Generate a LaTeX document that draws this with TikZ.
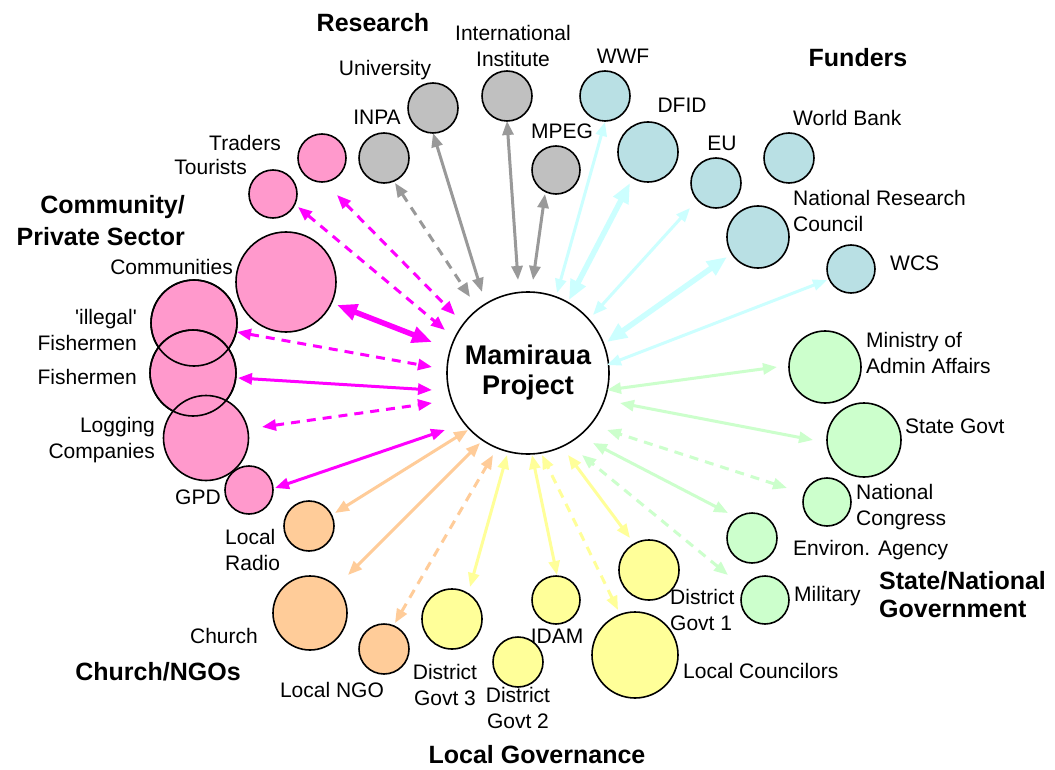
\documentclass[tikz,border=0pt]{standalone}
\usepackage{fontspec}
\setmainfont{Liberation Sans}[Ligatures=TeXOff]
\usetikzlibrary{arrows.meta,calc}
\definecolor{pinkf}{HTML}{FF99CC}
\definecolor{pinka}{HTML}{FF00FF}
\definecolor{grayf}{HTML}{C0C0C0}
\definecolor{graya}{HTML}{999999}
\definecolor{bluef}{HTML}{B9E0E4}
\definecolor{bluea}{HTML}{CCFFFF}
\definecolor{greenf}{HTML}{CCFFCC}
\definecolor{greena}{HTML}{CCFFCC}
\definecolor{yellf}{HTML}{FFFF99}
\definecolor{yella}{HTML}{FFFF99}
\definecolor{orf}{HTML}{FFCC99}
\definecolor{ora}{HTML}{FFCC99}
\begin{document}
\begin{tikzpicture}[x=1pt,y=-1pt,
  bub/.style={circle,draw=black,line width=1.6pt,inner sep=0pt,minimum size=#1},
  ring/.style={draw=black,line width=1.6pt},
  lab/.style={font=\fontsize{21}{26}\selectfont,inner sep=0pt},
  head/.style={font=\fontsize{25}{31}\selectfont\bfseries,inner sep=0pt},
  arr/.style={line width=3pt,{Triangle[length=14pt,width=11pt]}-{Triangle[length=14pt,width=11pt]}},
  fatarr/.style={line width=5.5pt,{Triangle[length=20pt,width=16pt]}-{Triangle[length=20pt,width=16pt]}},
  dsh/.style={dash pattern=on 9pt off 7pt}]
\useasboundingbox (0,0) rectangle (1055,770);
\fill[white] (0,0) rectangle (1055,770);

% central node
\node[bub=162pt,fill=white,font=\fontsize{27}{30}\selectfont\bfseries,align=center] (mp) at (528,373) {Mamiraua\\Project};

% pink
\node[bub=48pt,fill=pinkf] (trad) at (322,158) {};
\node[bub=48pt,fill=pinkf] (tour) at (273,194) {};
\node[bub=100pt,fill=pinkf] (comm) at (286,282) {};
\node[bub=86pt,fill=pinkf] (ill) at (194,323) {};
\node[bub=86pt,fill=pinkf] (fish) at (193,373) {};
\node[bub=85pt,fill=pinkf] (log) at (206,438) {};
\node[bub=48pt,fill=pinkf] (gpd) at (249,490) {};
\draw[ring] (ill.center) circle (43);
\draw[ring] (fish.center) circle (43);

% gray
\node[bub=50pt,fill=grayf] (inpa) at (384,158) {};
\node[bub=50pt,fill=grayf] (univ) at (433,108) {};
\node[bub=50pt,fill=grayf] (inst) at (507,96) {};
\node[bub=48pt,fill=grayf] (mpeg) at (556,170) {};

% blue
\node[bub=50pt,fill=bluef] (wwf) at (605,96) {};
\node[bub=60pt,fill=bluef] (dfid) at (648,152) {};
\node[bub=50pt,fill=bluef] (eu) at (716,183) {};
\node[bub=50pt,fill=bluef] (wb) at (789,158) {};
\node[bub=62pt,fill=bluef] (nrc) at (758,237) {};
\node[bub=48pt,fill=bluef] (wcs) at (851,269) {};

% green
\node[bub=72pt,fill=greenf] (min) at (825,367) {};
\node[bub=74pt,fill=greenf] (sg) at (864,440) {};
\node[bub=48pt,fill=greenf] (nc) at (827,502) {};
\node[bub=50pt,fill=greenf] (env) at (752,538) {};
\node[bub=48pt,fill=greenf] (mil) at (765,600) {};

% yellow
\node[bub=60pt,fill=yellf] (dg1) at (649,570) {};
\node[bub=86pt,fill=yellf] (lc) at (635,655) {};
\node[bub=48pt,fill=yellf] (idam) at (556,600) {};
\node[bub=50pt,fill=yellf] (dg2) at (518,662) {};
\node[bub=60pt,fill=yellf] (dg3) at (452,619) {};

% orange
\node[bub=50pt,fill=orf] (rad) at (309,526) {};
\node[bub=74pt,fill=orf] (chu) at (310,613) {};
\node[bub=50pt,fill=orf] (ngo) at (384,649) {};

% pink arrows
\draw[arr,dsh,pinka] ($(trad)+(15,37)$) -- ($(mp)+(-73,-58)$);
\draw[arr,dsh,pinka] ($(tour)+(25,13)$) -- ($(mp)+(-83,-43)$);
\draw[fatarr,pinka] ($(comm)+(51,23)$) -- ($(mp)+(-96,-31)$);
\draw[arr,dsh,pinka] ($(ill)+(43,9)$) -- ($(mp)+(-96,-6)$);
\draw[arr,pinka] ($(fish)+(45,5)$) -- ($(mp)+(-96,17)$);
\draw[arr,dsh,pinka] ($(log)+(56,-11)$) -- ($(mp)+(-96,30)$);
\draw[arr,pinka] ($(gpd)+(26,-2)$) -- ($(mp)+(-83,57)$);

% gray arrows
\draw[arr,dsh,graya] ($(inpa)+(11,25)$) -- ($(mp)+(-58,-76)$);
\draw[arr,graya] ($(univ)+(0,25)$) -- ($(mp)+(-46,-81)$);
\draw[arr,graya] ($(inst)+(0,25)$) -- ($(mp)+(-10,-93)$);
\draw[arr,graya] ($(mpeg)+(-11,24)$) -- ($(mp)+(5,-93)$);

% blue arrows
\draw[arr,bluea] ($(wwf)+(0,26)$) -- ($(mp)+(29,-80)$);
\draw[fatarr,bluea] ($(dfid)+(-18,31)$) -- ($(mp)+(41,-73)$);
\draw[arr,bluea] ($(eu)+(-26,25)$) -- ($(mp)+(65,-58)$);
\draw[fatarr,bluea] ($(nrc)+(-31,20)$) -- ($(mp)+(79,-31)$);
\draw[arr,bluea] ($(wcs)+(-24,11)$) -- ($(mp)+(79,-8)$);

% green arrows
\draw[arr,greena] ($(min)+(-48,0)$) -- ($(mp)+(79,17)$);
\draw[arr,greena] ($(sg)+(-51,0)$) -- ($(mp)+(92,30)$);
\draw[arr,dsh,greena] ($(nc)+(-40,-14)$) -- ($(mp)+(79,57)$);
\draw[arr,greena] ($(env)+(-24,-25)$) -- ($(mp)+(65,70)$);
\draw[arr,dsh,greena] ($(mil)+(-37,-25)$) -- ($(mp)+(54,82)$);

% yellow arrows
\draw[arr,yella] ($(dg1)+(-19,-32)$) -- ($(mp)+(40,82)$);
\draw[arr,dsh,yella] ($(lc)+(-17,-45)$) -- ($(mp)+(14,82)$);
\draw[arr,yella] ($(idam)+(1,-25)$) -- ($(mp)+(4,82)$);
\draw[arr,yella] ($(dg3)+(18,-32)$) -- ($(mp)+(-21,82)$);

% orange arrows
\draw[arr,ora] ($(rad)+(26,-13)$) -- ($(mp)+(-60,57)$);
\draw[arr,ora] ($(chu)+(38,-38)$) -- ($(mp)+(-48,70)$);
\draw[arr,dsh,ora] ($(ngo)+(11,-26)$) -- ($(mp)+(-35,82)$);

% labels
\node[lab,align=center] (linst) at (513,46) {International\\Institute};
\node[lab] (luniv) at (385,70) {University};
\node[lab] (linpa) at (377,117) {INPA};
\node[lab] (lmpeg) at (562,131) {MPEG};
\node[lab] (lwwf) at (623,56) {WWF};
\node[lab] (ldfid) at (682,105) {DFID};
\node[lab] (leu) at (722,143) {EU};
\node[lab,anchor=west] (lwb) at (793,118) {World Bank};
\node[lab,anchor=west,align=left] (lnrc) at (793,211) {National Research\\Council};
\node[lab,anchor=west] (lwcs) at (890,263) {WCS};
\node[lab,anchor=west,align=left] (lmin) at (866,353) {Ministry of\\Admin Affairs};
\node[lab,anchor=west] (lsg) at (905,426) {State Govt};
\node[lab,anchor=west,align=left] (lnc) at (856,507) {National\\Congress};
\node[lab,anchor=west] (lenv) at (793,550) {Environ. Agency};
\node[lab,anchor=west] (lmil) at (794,596) {Military};
\node[lab,anchor=west,align=left] (ldg1) at (670,610) {District\\Govt 1};
\node[lab,anchor=west] (llc) at (683,671) {Local Councilors};
\node[lab] (lidam) at (557,636) {IDAM};
\node[lab,align=center] (ldg2) at (518,708) {District\\Govt 2};
\node[lab,align=center] (ldg3) at (445,685) {District\\Govt 3};
\node[lab] (lngo) at (332,690) {Local NGO};
\node[lab] (lchu) at (224,636) {Church};
\node[lab,anchor=west,align=left] (lrad) at (225,550) {Local\\Radio};
\node[lab] (lgpd) at (198,497) {GPD};
\node[lab,anchor=east,align=right] (llog) at (155,440) {Logging\\Companies};
\node[lab,anchor=east] (lfish) at (137,377) {Fishermen};
\node[lab,anchor=east,align=right] (lill) at (137,330) {'illegal'\\Fishermen};
\node[lab,anchor=east] (lcomm) at (233,267) {Communities};
\node[lab,anchor=east] (ltrad) at (281,143) {Traders};
\node[lab,anchor=east] (ltour) at (247,167) {Tourists};

% headings
\node[head] (hres) at (373,23) {Research};
\node[head] (hfun) at (858,58) {Funders};
\node[head,anchor=east,align=right,font=\fontsize{25}{32}\selectfont\bfseries] (hcom) at (185,221) {Community/\\Private Sector};
\node[head,anchor=west,align=left,font=\fontsize{25}{28}\selectfont\bfseries] (hstate) at (879,595) {State/National\\Government};
\node[head] (hchu) at (158,672) {Church/NGOs};
\node[head] (hloc) at (537,755) {Local Governance};
\end{tikzpicture}
\end{document}
